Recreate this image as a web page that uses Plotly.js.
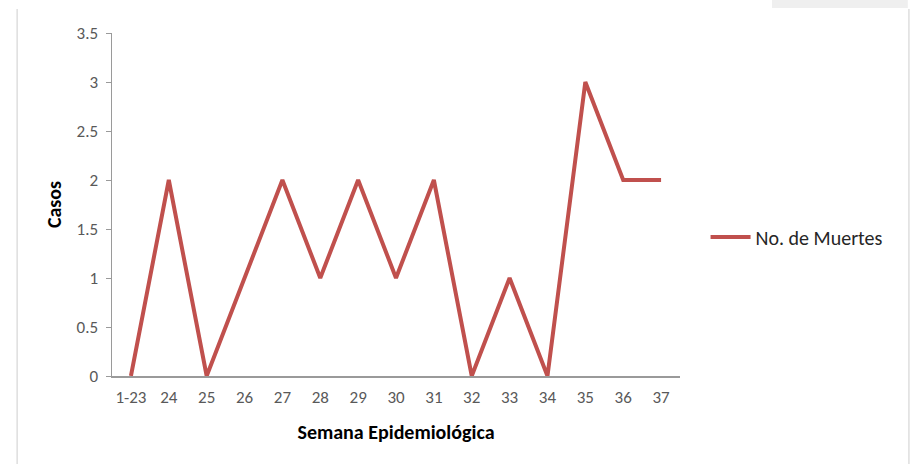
<!DOCTYPE html>
<html>
<head>
<meta charset="utf-8">
<script src="https://cdn.plot.ly/plotly-3.0.1.min.js"></script>
<style>html,body{margin:0;padding:0;background:#fff;}#chart{width:916px;height:464px;}</style>
</head>
<body>
<div id="chart"></div>
<script>
const semanas = ["1-23","24","25","26","27","28","29","30","31","32","33","34","35","36","37"];
const muertes = [0,2,0,1,2,1,2,1,2,0,1,0,3,2,2];
const serieNombre = "No. de Muertes";
const yTitulo = "Casos";
const xTitulo = "Semana Epidemiológica";

const fontFam = "Carlito, 'Liberation Sans Narrow', 'Open Sans', Arial, sans-serif";
const trace = {
  x: semanas, y: muertes, type: "scatter", mode: "lines", name: serieNombre,
  line: {color: "#C0504D", width: 4}
};
const layout = {
  width: 916, height: 464,
  margin: {l: 112, r: 236, t: 33, b: 88},
  paper_bgcolor: "#fff", plot_bgcolor: "#fff",
  showlegend: true,
  legend: {x: 1.045, y: 0.405, xanchor: "left", yanchor: "middle", font: {family: fontFam, size: 20, color: "#262626"}, bgcolor: "rgba(0,0,0,0)", itemwidth: 40},
  xaxis: {
    type: "category", range: [-0.5, 14.5], showgrid: false, zeroline: false,
    showline: true, linecolor: "#9a9a9a", linewidth: 1.5, ticks: "",
    tickfont: {family: fontFam, size: 17, color: "#595959"}, ticklabelstandoff: 5,
    title: {text: xTitulo, font: {family: fontFam, size: 20, color: "#000", weight: "bold"}, standoff: 18}
  },
  yaxis: {
    range: [0, 3.5], dtick: 0.5, showgrid: false, zeroline: false,
    showline: true, linecolor: "#9a9a9a", linewidth: 1.5, ticks: "outside", ticklen: 5, tickcolor: "#9a9a9a",
    tickfont: {family: fontFam, size: 17, color: "#595959"}, ticklabelstandoff: 4,
    title: {text: yTitulo, font: {family: fontFam, size: 20, color: "#000", weight: "bold"}, standoff: 9}
  },
  shapes: [
    {type: "line", xref: "paper", yref: "paper", x0: -0.167, x1: -0.167, y0: 1.07, y1: -0.3, line: {color: "#dedede", width: 1.5}},
    {type: "line", xref: "paper", yref: "paper", x0: 1.403, x1: 1.403, y0: 1.07, y1: -0.3, line: {color: "#dedede", width: 1.5}},
    {type: "rect", xref: "paper", yref: "paper", x0: 1.162, x1: 1.401, y0: 1.073, y1: 1.2, fillcolor: "#efefef", line: {width: 0}}
  ]
};
Plotly.newPlot("chart", [trace], layout, {displayModeBar: false, staticPlot: true});
</script>
</body>
</html>
